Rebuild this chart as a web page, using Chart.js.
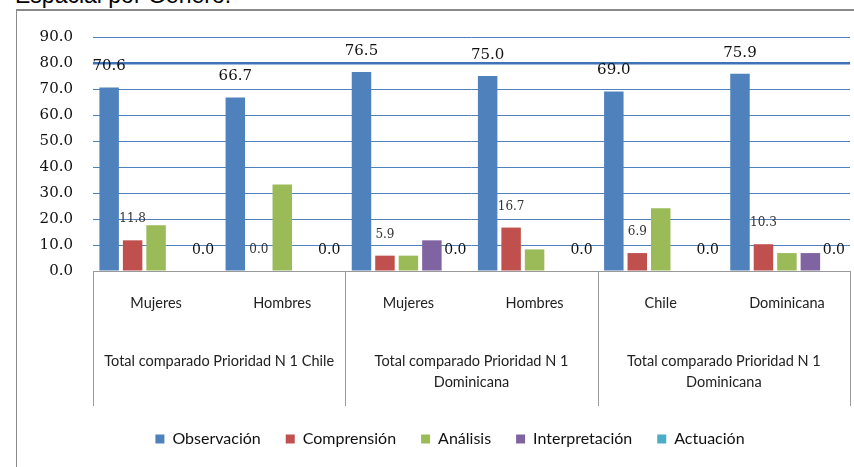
<!DOCTYPE html>
<html>
<head>
<meta charset="utf-8">
<script src="https://cdn.jsdelivr.net/npm/chart.js@4.4.1/dist/chart.umd.min.js"></script>
<style>
  html, body { margin: 0; padding: 0; background: #fff; }
  body { width: 854px; height: 467px; position: relative; overflow: hidden; }
  #frame { position: absolute; left: 16px; top: 9px; width: 900px; height: 500px;
           border-left: 1px solid #8a8a8a; border-top: 2px solid #8a8a8a; }
  #title { position: absolute; left: 15px; top: -16px; font-family: "Liberation Sans", Arial, sans-serif;
           font-size: 23px; line-height: 23px; color: #000; white-space: nowrap; }
  #wrap { position: absolute; left: 0; top: 0; width: 854px; height: 467px; }
</style>
</head>
<body>
<div id="frame"></div>
<div id="title">Espacial por Género.</div>
<div id="wrap"><canvas id="c" width="854" height="467"></canvas></div>
<script>
// ---- data ----
const categories = ["Mujeres", "Hombres", "Mujeres", "Hombres", "Chile", "Dominicana"];
const groupLabels = [
  "Total comparado Prioridad N 1 Chile",
  ["Total comparado Prioridad N 1", "Dominicana"],
  ["Total comparado Prioridad N 1", "Dominicana"]
];
const seriesNames = ["Observación", "Comprensión", "Análisis", "Interpretación", "Actuación"];
const observacion    = [70.6, 66.7, 76.5, 75.0, 69.0, 75.9];
const comprension    = [11.8, 0.0, 5.9, 16.7, 6.9, 10.3];
const analisis       = [17.6, 33.3, 5.9, 8.3, 24.1, 6.9];
const interpretacion = [0.0, 0.0, 11.8, 0.0, 0.0, 6.9];
const actuacion      = [0.0, 0.0, 0.0, 0.0, 0.0, 0.0];
const yMin = 0, yMax = 90, yStep = 10;

const colors = ["#4F81BD", "#C0504D", "#9BBB59", "#8064A2", "#4BACC6"];
const seriesData = [observacion, comprension, analisis, interpretacion, actuacion];

// which series show value labels, and their styling
const labelStyle = {
  0: { font: '15px "DejaVu Serif"', color: '#111' },
  1: { font: '12px "DejaVu Serif"', color: '#333' },
  4: { font: '14px "DejaVu Serif"', color: '#111' }
};

const valueLabels = {
  id: 'valueLabels',
  afterDatasetsDraw(chart) {
    const ctx = chart.ctx;
    ctx.save();
    ctx.textAlign = 'center';
    ctx.textBaseline = 'middle';
    Object.keys(labelStyle).forEach(k => {
      const ds = +k;
      const st = labelStyle[ds];
      const meta = chart.getDatasetMeta(ds);
      meta.data.forEach((bar, i) => {
        const v = chart.data.datasets[ds].data[i];
        ctx.font = st.font;
        ctx.fillStyle = st.color;
        ctx.fillText(v.toFixed(1), bar.x, bar.y - 21);
      });
    });
    ctx.restore();
  }
};

const separators = {
  id: 'separators',
  afterDraw(chart) {
    const ctx = chart.ctx;
    const xs = chart.scales.x;
    const x2 = chart.scales.x2;
    const ca = chart.chartArea;
    ctx.save();
    ctx.strokeStyle = '#9a9a9a';
    ctx.lineWidth = 1;
    ctx.beginPath();
    ctx.moveTo(ca.left, Math.round(ca.bottom) + 0.5);
    ctx.lineTo(ca.right, Math.round(ca.bottom) + 0.5);
    ctx.stroke();
    const bottom = x2.bottom;
    for (let g = 0; g <= groupLabels.length; g++) {
      const px = g === 0 ? xs.left : (g === groupLabels.length ? xs.right :
        (xs.getPixelForValue(g * 2 - 1) + xs.getPixelForValue(g * 2)) / 2);
      const X = Math.round(px) + 0.5;
      ctx.beginPath();
      ctx.moveTo(X, ca.bottom);
      ctx.lineTo(X, bottom);
      ctx.stroke();
    }
    ctx.restore();
  }
};

// shift the legend so it is centred under the plot like the reference
const legendShift = {
  id: 'legendShift',
  afterLayout(chart) {
    if (chart.legend) { chart.legend.left += 40; }
  }
};

new Chart(document.getElementById('c'), {
  type: 'bar',
  data: {
    labels: categories,
    datasets: seriesNames.map((n, i) => ({
      label: n,
      data: seriesData[i],
      backgroundColor: colors[i],
      borderWidth: 0,
      categoryPercentage: 0.93,
      barPercentage: 0.83,
      xAxisID: 'x',
      yAxisID: 'y'
    }))
  },
  options: {
    responsive: false,
    animation: false,
    devicePixelRatio: 1,
    layout: { padding: { left: 10, right: 4, top: 37, bottom: 10 } },
    plugins: {
      legend: {
        position: 'bottom',
        labels: {
          boxWidth: 9, boxHeight: 9, padding: 25,
          font: { family: 'Lato', size: 16 }, color: '#111'
        }
      },
      tooltip: { enabled: false },
      title: { display: false }
    },
    scales: {
      y: {
        min: yMin, max: yMax,
        afterFit(s) { s.width = 83; },
        ticks: {
          stepSize: yStep,
          padding: 20,
          font: { family: 'DejaVu Serif', size: 15 },
          color: '#111',
          callback: function (v) { return Number(v).toFixed(1); }
        },
        grid: {
          drawTicks: false,
          color: ctx => ctx.tick && ctx.tick.value === 0 ? '#9a9a9a' : (ctx.tick && ctx.tick.value === 80 ? '#3f73b5' : '#4f81bd'),
          lineWidth: ctx => ctx.tick && ctx.tick.value === 80 ? 2.5 : 1
        },
        border: { display: false }
      },
      x: {
        type: 'category',
        position: 'bottom',
        weight: 0,
        grid: { display: false, drawTicks: false },
        border: { display: false },
        afterFit(s) { s.height = 60; },
        ticks: {
          autoSkip: false, maxRotation: 0, padding: 24,
          font: { family: 'Lato', size: 14.5 }, color: '#222'
        }
      },
      x2: {
        type: 'category',
        axis: 'x',
        position: 'bottom',
        weight: 1,
        labels: groupLabels,
        offset: true,
        grid: { display: false, drawTicks: false },
        border: { display: false },
        afterFit(s) { s.height = 75; },
        ticks: {
          autoSkip: false, maxRotation: 0, padding: 19,
          font: { family: 'Lato', size: 14.5, lineHeight: 1.5 }, color: '#222'
        }
      }
    }
  },
  plugins: [valueLabels, separators, legendShift]
});
</script>
</body>
</html>
